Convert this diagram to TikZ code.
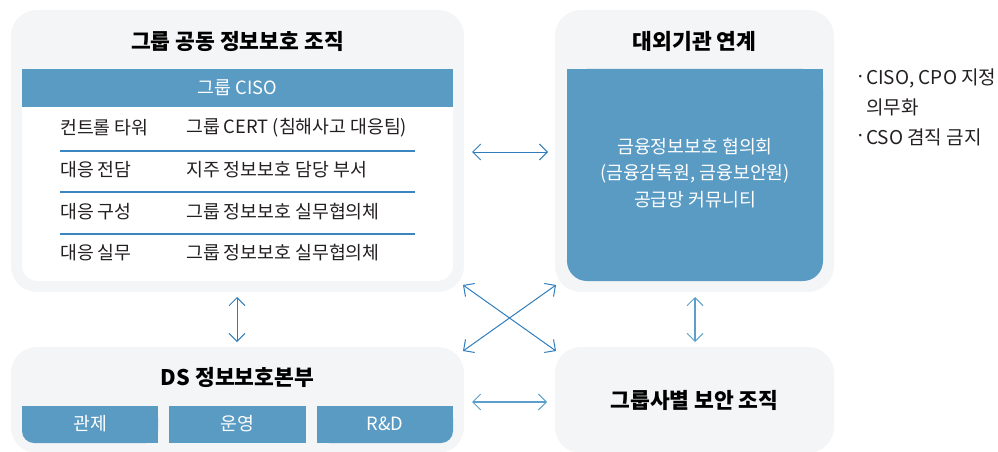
\documentclass[tikz,border=0pt]{standalone}
\usepackage{fontspec}
\setmainfont{Noto Sans CJK KR}
\usetikzlibrary{arrows.meta}
\definecolor{boxbg}{HTML}{F4F5F7}
\definecolor{hdr}{HTML}{5A9BC4}
\definecolor{arr}{HTML}{2F7DBC}
\definecolor{arrl}{HTML}{5C9FCB}
\definecolor{sepc}{HTML}{3A86C2}
\definecolor{txt}{HTML}{231F20}
\begin{document}
\begin{tikzpicture}[x=1pt,y=-1pt,
  bigbox/.style={fill=boxbg, rounded corners=26pt, inner sep=0pt, draw=none},
  ttl/.style={font=\bfseries\fontsize{21.5}{25}\selectfont, text=black, inner sep=0pt},
  body/.style={font=\fontsize{18.3}{22}\selectfont, text=txt, inner sep=0pt},
  wbody/.style={font=\fontsize{18.3}{22}\selectfont, text=white, inner sep=0pt},
  wtxt/.style={font=\fontsize{18.3}{26.5}\selectfont, text=white, inner sep=0pt, align=center},
  note/.style={font=\fontsize{19}{23}\selectfont, text=txt, inner sep=0pt, anchor=west},
  barb/.tip={Straight Barb[length=8pt,width=16pt,line width=1pt]},
  link/.style={draw=arr, line width=1pt, barb-barb},
  linkl/.style={draw=arrl, line width=1.3pt, barb-barb},
  sepline/.style={draw=sepc, line width=1.3pt},
]
\useasboundingbox (0,0) rectangle (998,452);

% ---------- big boxes
\node[bigbox, minimum width=453pt, minimum height=282pt] (grp) at (237.5,151) {};
\node[bigbox, minimum width=279pt, minimum height=282pt] (ext) at (694.5,151) {};
\node[bigbox, minimum width=453pt, minimum height=106pt] (ds) at (237.5,400) {};
\node[bigbox, minimum width=279pt, minimum height=106pt] (sub) at (694.5,400) {};

% ---------- top-left inner panel
\fill[white, rounded corners=16pt] (22,69) rectangle (453,281);
\fill[white] (22,69) rectangle (453,150);
\fill[hdr] (22,69) rectangle (453,107);
\node[ttl] (grpT) at (237.5,41) {그룹 공동 정보보호 조직};
\node[wbody] (ciso) at (237.5,88) {그룹 CISO};

\node[body, anchor=west] (r1a) at (60,128) {컨트롤 타워};
\node[body, anchor=west] (r1b) at (186,128) {그룹 CERT (침해사고 대응팀)};
\node[body, anchor=west] (r2a) at (60,170) {대응 전담};
\node[body, anchor=west] (r2b) at (186,170) {지주 정보보호 담당 부서};
\node[body, anchor=west] (r3a) at (60,212) {대응 구성};
\node[body, anchor=west] (r3b) at (186,212) {그룹 정보보호 실무협의체};
\node[body, anchor=west] (r4a) at (60,253) {대응 실무};
\node[body, anchor=west] (r4b) at (186,253) {그룹 정보보호 실무협의체};
\draw[sepline] (60,151) -- (415,151);
\draw[sepline] (60,192) -- (415,192);
\draw[sepline] (60,234) -- (415,234);

% ---------- top-right inner panel
\fill[hdr, rounded corners=20pt] (567,69) rectangle (823,281);
\fill[hdr] (567,69) rectangle (823,150);
\node[ttl] (extT) at (694.5,41) {대외기관 연계};
\node[wtxt] (extB) at (695,173) {금융정보보호 협의회\\(금융감독원, 금융보안원)\\공급망 커뮤니티};

% ---------- notes
\node[note, anchor=center] (d1) at (861,79) {·};
\node[note] (n1) at (866,78) {CISO, CPO 지정};
\node[note] (n2) at (866,107) {의무화};
\node[note, anchor=center] (d2) at (861,138) {·};
\node[note] (n3) at (866,137) {CSO 겸직 금지};

% ---------- bottom-left
\node[ttl] (dsT) at (237.5,377) {DS 정보보호본부};
\fill[hdr, rounded corners=12pt] (22,406) rectangle (158,443);
\fill[hdr] (22,406) rectangle (158,420);
\fill[hdr] (60,406) rectangle (158,443);
\fill[hdr] (169,406) rectangle (306,443);
\fill[hdr, rounded corners=12pt] (317,406) rectangle (453,443);
\fill[hdr] (317,406) rectangle (453,420);
\fill[hdr] (317,406) rectangle (420,443);
\node[wbody] (c1) at (90,424) {관제};
\node[wbody] (c2) at (237.5,424) {운영};
\node[wbody] (c3) at (385,424) {R\&D};

% ---------- bottom-right
\node[ttl] (subT) at (694.5,400) {그룹사별 보안 조직};

% ---------- connectors
\coordinate (a1) at (472,152); \coordinate (a2) at (548,152);
\coordinate (b1) at (472,402); \coordinate (b2) at (547,402);
\coordinate (v1) at (237,297); \coordinate (v2) at (237,342);
\coordinate (w1) at (695,297); \coordinate (w2) at (695,342);
\coordinate (x1) at (463,285); \coordinate (x2) at (556,351);
\coordinate (y1) at (463,351); \coordinate (y2) at (556,285);
\draw[link] (a1) -- (a2);
\draw[linkl] (b1) -- (b2);
\draw[link] (v1) -- (v2);
\draw[linkl] (w1) -- (w2);
\draw[link] (x1) -- (x2);
\draw[link] (y1) -- (y2);
\end{tikzpicture}
\end{document}
